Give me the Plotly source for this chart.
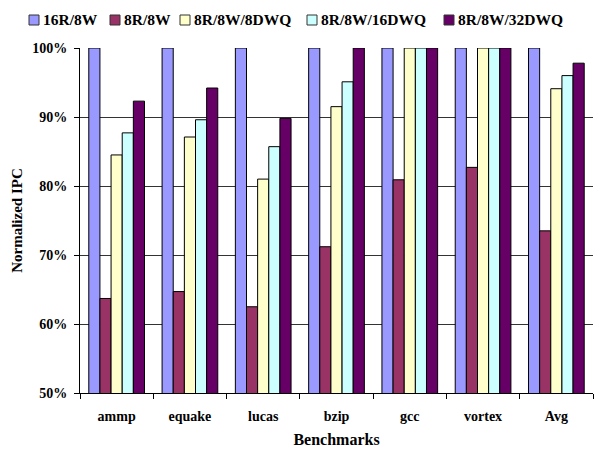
import plotly.graph_objects as go

categories = ["ammp", "equake", "lucas", "bzip", "gcc", "vortex", "Avg"]
series_names = ["16R/8W", "8R/8W", "8R/8W/8DWQ", "8R/8W/16DWQ", "8R/8W/32DWQ"]
v_16r8w = [100, 100, 100, 100, 100, 100, 100]
v_8r8w = [63.7, 64.7, 62.5, 71.2, 80.9, 82.7, 73.5]
v_8dwq = [84.5, 87.1, 81.0, 91.5, 100, 100, 94.1]
v_16dwq = [87.7, 89.6, 85.7, 95.1, 100, 100, 96.0]
v_32dwq = [92.3, 94.2, 89.8, 100, 100, 100, 97.8]
colors = ["#9999FF", "#993366", "#FFFFCC", "#CCFFFF", "#660066"]
y_ticks = [50, 60, 70, 80, 90, 100]
y_ticklabels = ["50%", "60%", "70%", "80%", "90%", "100%"]

FONT = "Liberation Serif"
W, H = 594, 449
ML, MR, MT, MB = 80, 1, 48, 56
PW = W - ML - MR
PH = H - MT - MB


def px_x(px):
    return (px - ML) / PW


def px_y(py):
    return (H - MB - py) / PH


fig = go.Figure()
for name, vals, col in zip(series_names, [v_16r8w, v_8r8w, v_8dwq, v_16dwq, v_32dwq], colors):
    fig.add_trace(go.Bar(
        x=categories, y=vals, name=name, showlegend=False,
        marker=dict(color=col, line=dict(color="black", width=1)),
    ))

# manual legend (one row, as in the reference)
legend_left = [29, 110, 180, 307, 444]
sq = 10
cy = 20
shapes = []
annotations = []
for lx, name, col in zip(legend_left, series_names, colors):
    shapes.append(dict(
        type="rect", xref="paper", yref="paper",
        x0=px_x(lx), x1=px_x(lx + sq), y0=px_y(cy + sq / 2), y1=px_y(cy - sq / 2),
        fillcolor=col, line=dict(color="#333333", width=1),
    ))
    annotations.append(dict(
        xref="paper", yref="paper", x=px_x(lx + sq + 2), y=px_y(cy),
        xanchor="left", yanchor="middle", showarrow=False, text=name,
        font=dict(family=FONT, size=15.5, color="black", weight="bold"),
    ))

fig.update_layout(
    width=W, height=H,
    margin=dict(l=ML, r=MR, t=MT, b=MB),
    paper_bgcolor="white", plot_bgcolor="white",
    barmode="group", bargap=0.24, bargroupgap=0,
    font=dict(family=FONT, size=12, color="black"),
    showlegend=False,
    shapes=shapes,
    annotations=annotations,
    xaxis=dict(
        showline=True, linecolor="black", linewidth=1,
        ticks="outside", ticklen=5, tickcolor="black", tickson="boundaries",
        tickfont=dict(family=FONT, size=14, weight="bold"),
        ticklabelstandoff=10,
        title=dict(text="Benchmarks", font=dict(family=FONT, size=16, weight="bold"), standoff=11),
        showgrid=False,
    ),
    yaxis=dict(
        range=[50, 100], tickvals=y_ticks, ticktext=y_ticklabels,
        showline=True, linecolor="black", linewidth=1,
        ticks="outside", ticklen=5, tickcolor="black",
        ticklabelstandoff=4,
        showgrid=True, gridcolor="#333333", gridwidth=1,
        tickfont=dict(family=FONT, size=14, weight="bold"),
        title=dict(text="Normalized IPC", font=dict(family=FONT, size=15, weight="bold"), standoff=5),
        zeroline=False,
    ),
)

fig.write_html(
    "out.html",
    config={"displayModeBar": False},
    post_script="document.body.style.margin='0';document.body.style.overflow='hidden';",
)
